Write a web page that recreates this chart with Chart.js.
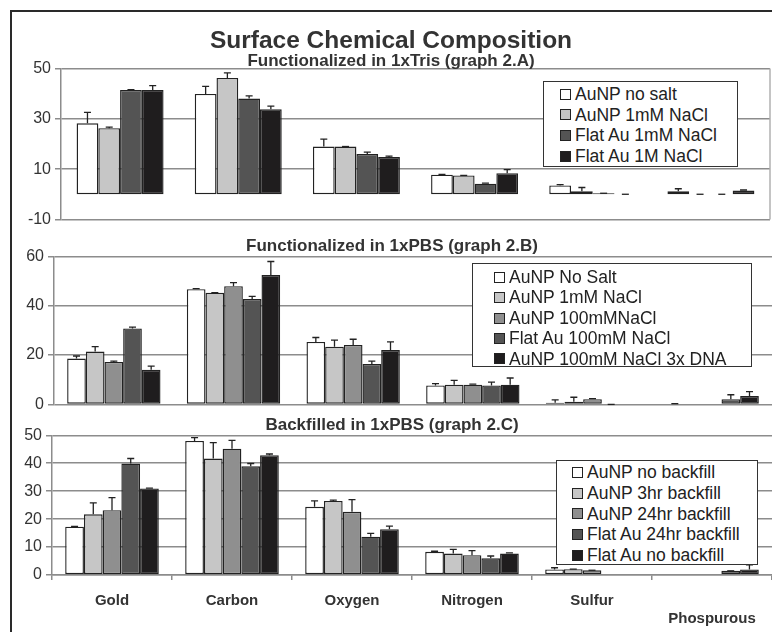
<!DOCTYPE html>
<html>
<head>
<meta charset="utf-8">
<script src="https://cdn.jsdelivr.net/npm/chart.js@4.4.1/dist/chart.umd.min.js"></script>
<style>
    body { margin: 0; width: 772px; height: 632px; background: #fff; overflow: hidden; position: relative; font-family: "Liberation Sans", Arial, sans-serif; }
    .frame { position: absolute; left: 10px; top: 10px; width: 800px; height: 700px; border-left: 2px solid #2a2a2a; border-top: 2px solid #2a2a2a; }
    .panel { position: absolute; left: 12px; }
    .legend { position: absolute; background: #fff; border: 1.5px solid #333; box-sizing: border-box; font-size: 17.5px; color: #222; white-space: nowrap; }
    .legend .row { display: flex; align-items: center; }
    .legend .sw { width: 9px; height: 9px; border: 1.3px solid #222; margin-right: 4px; flex: none; }
</style>
</head>
<body>
<div class="frame"></div>
<canvas id="chartA" class="panel" width="760" height="203" style="top:30px"></canvas>
<canvas id="chartB" class="panel" width="760" height="179" style="top:239px"></canvas>
<canvas id="chartC" class="panel" width="760" height="214" style="top:418px"></canvas>
<div id="legendA" class="legend" style="left:543px; top:81px; width:195px; height:86px; padding:2px 0 0 16px; line-height:20.6px"></div>
<div id="legendB" class="legend" style="left:472px; top:263px; width:280px; height:104px; padding:3px 0 0 21px; line-height:20.4px"></div>
<div id="legendC" class="legend" style="left:556px; top:460px; width:202px; height:105px; padding:1px 0 0 15px; line-height:20.8px"></div>
<script>
const elements = ['Gold', 'Carbon', 'Oxygen', 'Nitrogen', 'Sulfur', ['', 'Phospurous']];

// graph 2.A - functionalized in 1xTris
const seriesA = ['AuNP no salt', 'AuNP 1mM NaCl', 'Flat Au 1mM NaCl', 'Flat Au 1M NaCl'];
const aNoSalt = [28.2, 39.9, 19.0, 7.8, 3.5, 1.2];
const aNoSaltErr = [4.4, 3.0, 2.9, 0.1, 0.3, 1.0];
const a1mM = [26.3, 46.3, 19.0, 7.5, 1.2, 0];
const a1mMErr = [0.4, 2.0, 0, 0, 1.5, 0];
const aFlat1mM = [41.5, 38.1, 16.0, 4.2, 0.4, 0];
const aFlat1mMErr = [0.1, 1.0, 0.8, 0.2, 0, 0];
const aFlat1M = [41.5, 33.8, 14.8, 8.4, 0, 1.5];
const aFlat1MErr = [1.7, 1.3, 0.4, 1.4, 0, 0.2];

// graph 2.B - functionalized in 1xPBS
const seriesB = ['AuNP No Salt', 'AuNP 1mM NaCl', 'AuNP 100mMNaCl', 'Flat Au 100mM NaCl', 'AuNP 100mM NaCl 3x DNA'];
const bNoSalt = [18.6, 46.7, 25.3, 7.7, 0.7, 0.3];
const bNoSaltErr = [1.0, 0.2, 1.8, 0.7, 1.1, 0];
const b1mM = [21.4, 45.2, 23.4, 8.0, 1.1, null];
const b1mMErr = [2.0, 0.1, 2.6, 1.7, 1.8, 0];
const b100mM = [17.2, 47.9, 24.1, 8.0, 2.1, null];
const b100mMErr = [0.3, 1.4, 2.3, 0.2, 0.2, 0];
const bFlat100mM = [30.8, 42.7, 16.4, 7.7, 0, 2.1];
const bFlat100mMErr = [0.5, 1.1, 1.1, 1.3, 0, 1.8];
const b3xDna = [14.0, 52.4, 22.0, 8.0, null, 3.4];
const b3xDnaErr = [1.5, 5.5, 3.3, 2.7, 0, 1.8];

// graph 2.C - backfilled in 1xPBS
const seriesC = ['AuNP no backfill', 'AuNP 3hr backfill', 'AuNP 24hr backfill', 'Flat Au 24hr backfill', 'Flat Au no backfill'];
const cNoBackfill = [17.3, 48.0, 24.4, 8.3, 2.0, null];
const cNoBackfillErr = [0.1, 1.2, 2.1, 0.2, 0.6, 0];
const c3hr = [21.7, 41.7, 26.5, 7.7, 2.1, null];
const c3hrErr = [4.1, 5.7, 0.3, 1.5, 0, 0];
const c24hr = [23.2, 45.2, 22.6, 7.1, 1.7, null];
const c24hrErr = [4.5, 3.0, 4.4, 1.6, 0, 0];
const cFlat24hr = [39.9, 38.9, 13.7, 6.0, null, 1.5];
const cFlat24hrErr = [1.8, 1.0, 1.2, 0.8, 0, 0];
const cFlatNo = [31.0, 42.9, 16.4, 7.7, null, 2.0];
const cFlatNoErr = [0.1, 0.4, 1.1, 0.2, 0, 1.6];

const colors4 = ['#ffffff', '#c6c6c6', '#545454', '#1f1d1e'];
const colors5 = ['#ffffff', '#c6c6c6', '#8f8f8f', '#545454', '#1f1d1e'];

const fontFamily = '"Liberation Sans", Arial, sans-serif';
const gridColor = '#8c8c8c';

// simple one-sided error bars with a cap
const errorBars = {
    id: 'errorBars',
    afterDatasetsDraw(chart) {
        const ctx = chart.ctx;
        const yScale = chart.scales.y;
        chart.data.datasets.forEach((ds, di) => {
            const meta = chart.getDatasetMeta(di);
            meta.data.forEach((bar, i) => {
                const v = ds.data[i];
                const e = ds.errors[i];
                if (v === null || e === null) return;
                const top = yScale.getPixelForValue(v + e);
                const base = yScale.getPixelForValue(v);
                ctx.save();
                ctx.strokeStyle = '#222';
                ctx.lineWidth = 1.3;
                ctx.beginPath();
                ctx.moveTo(bar.x, base);
                ctx.lineTo(bar.x, top);
                ctx.moveTo(bar.x - 3.5, top);
                ctx.lineTo(bar.x + 3.5, top);
                ctx.stroke();
                ctx.restore();
            });
        });
    }
};

const rightEdge = {
    id: 'rightEdge',
    afterDraw(chart) {
        const a = chart.chartArea;
        const ctx = chart.ctx;
        ctx.save();
        ctx.strokeStyle = '#b0b0b0';
        ctx.lineWidth = 1.5;
        ctx.beginPath();
        ctx.moveTo(a.right, a.top);
        ctx.lineTo(a.right, a.bottom);
        ctx.stroke();
        ctx.restore();
    }
};

function makeDatasets(labels, values, errors, colors) {
    return labels.map((label, i) => ({
        label: label,
        data: values[i],
        errors: errors[i],
        backgroundColor: colors[i],
        borderColor: '#222',
        borderWidth: 1.4,
        borderSkipped: false,
        categoryPercentage: colors.length === 4 ? 0.736 : 0.78,
        barPercentage: 1.0
    }));
}

function yAxis(min, max, step, width) {
    return {
        min: min,
        max: max,
        ticks: { stepSize: step, color: '#333', font: { family: fontFamily, size: 16 }, padding: 4 },
        grid: { color: gridColor, lineWidth: 1.5, tickLength: 6 },
        border: { color: gridColor, width: 1.5 },
        afterFit: (s) => { s.width = width; }
    };
}

function panelTitle(text) {
    return {
        display: true,
        text: text,
        color: '#333',
        font: { family: fontFamily, size: 17, weight: 'bold', lineHeight: 0.9 },
        padding: { top: 0, bottom: 2 }
    };
}

new Chart(document.getElementById('chartA'), {
    type: 'bar',
    data: {
        labels: elements,
        datasets: makeDatasets(seriesA, [aNoSalt, a1mM, aFlat1mM, aFlat1M],
            [aNoSaltErr, a1mMErr, aFlat1mMErr, aFlat1MErr], colors4)
    },
    options: {
        responsive: false,
        animation: false,
        devicePixelRatio: 1,
        layout: { padding: { top: 0, bottom: 10, left: 0, right: 2 } },
        scales: {
            x: { display: false },
            y: yAxis(-10, 50, 20, 49)
        },
        plugins: {
            legend: { display: false },
            tooltip: { enabled: false },
            title: {
                display: true,
                text: 'Surface Chemical Composition',
                color: '#333',
                font: { family: fontFamily, size: 24.5, weight: 'bold', lineHeight: 0.95 },
                padding: { top: 0, bottom: 0 }
            },
            subtitle: {
                display: true,
                text: 'Functionalized in 1xTris (graph 2.A)',
                color: '#333',
                font: { family: fontFamily, size: 17, weight: 'bold', lineHeight: 0.9 },
                padding: { top: 0, bottom: 0 }
            }
        }
    },
    plugins: [errorBars, rightEdge]
});

new Chart(document.getElementById('chartB'), {
    type: 'bar',
    data: {
        labels: elements,
        datasets: makeDatasets(seriesB, [bNoSalt, b1mM, b100mM, bFlat100mM, b3xDna],
            [bNoSaltErr, b1mMErr, b100mMErr, bFlat100mMErr, b3xDnaErr], colors5)
    },
    options: {
        responsive: false,
        animation: false,
        devicePixelRatio: 1,
        layout: { padding: { top: 0, bottom: 10, left: 0, right: 0 } },
        scales: {
            x: { display: false },
            y: yAxis(0, 60, 20, 42)
        },
        plugins: {
            legend: { display: false },
            tooltip: { enabled: false },
            title: panelTitle('Functionalized in 1xPBS (graph 2.B)')
        }
    },
    plugins: [errorBars]
});

new Chart(document.getElementById('chartC'), {
    type: 'bar',
    data: {
        labels: elements,
        datasets: makeDatasets(seriesC, [cNoBackfill, c3hr, c24hr, cFlat24hr, cFlatNo],
            [cNoBackfillErr, c3hrErr, c24hrErr, cFlat24hrErr, cFlatNoErr], colors5)
    },
    options: {
        responsive: false,
        animation: false,
        devicePixelRatio: 1,
        layout: { padding: { top: 0, bottom: 0, left: 0, right: 0 } },
        scales: {
            x: {
                ticks: { color: '#333', font: { family: fontFamily, size: 15, weight: 'bold', lineHeight: 1.2 }, padding: 12, maxRotation: 0, autoSkip: false },
                grid: { offset: true, drawOnChartArea: false, color: gridColor, lineWidth: 1.5, tickLength: 5 },
                border: { color: gridColor, width: 1.5 },
                afterFit: (s) => { s.height = 57; }
            },
            y: yAxis(0, 50, 10, 40)
        },
        plugins: {
            legend: { display: false },
            tooltip: { enabled: false },
            title: panelTitle('Backfilled in 1xPBS (graph 2.C)')
        }
    },
    plugins: [errorBars]
});

// legends drawn as boxes inside the plot areas
function fillLegend(id, labels, colors) {
    const box = document.getElementById(id);
    labels.forEach((label, i) => {
        const row = document.createElement('div');
        row.className = 'row';
        const sw = document.createElement('span');
        sw.className = 'sw';
        sw.style.background = colors[i];
        const txt = document.createElement('span');
        txt.textContent = label;
        row.appendChild(sw);
        row.appendChild(txt);
        box.appendChild(row);
    });
}
fillLegend('legendA', seriesA, colors4);
fillLegend('legendB', seriesB, colors5);
fillLegend('legendC', seriesC, colors5);
</script>
</body>
</html>
